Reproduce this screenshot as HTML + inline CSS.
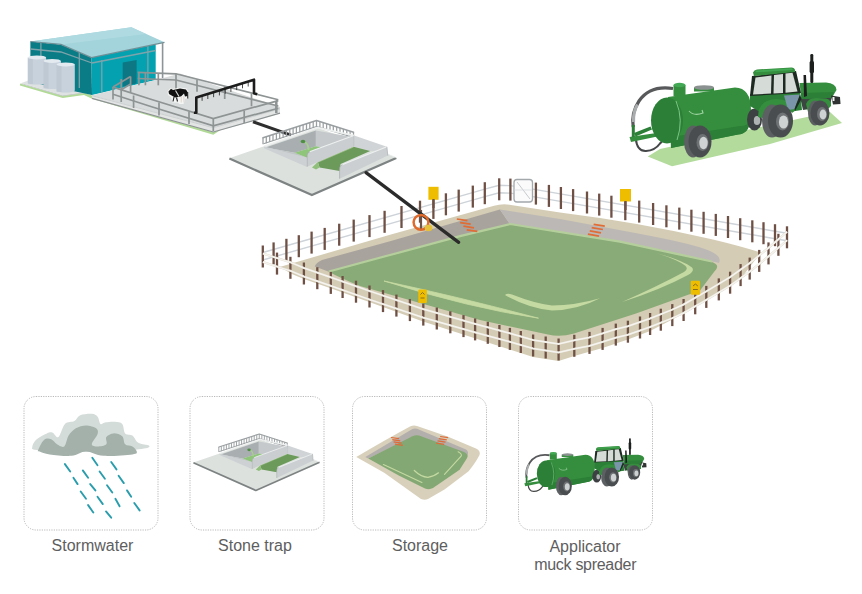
<!DOCTYPE html>
<html><head><meta charset="utf-8"><style>
html,body{margin:0;padding:0;background:#fff;width:862px;height:594px;overflow:hidden}
svg{display:block}
</style></head><body>
<svg width="862" height="594" viewBox="0 0 862 594">
<rect x="24" y="396.5" width="134" height="133.5" rx="12" fill="none" stroke="#b9b9b9" stroke-width="1" stroke-dasharray="1.2 1.2"/>
<rect x="190" y="396.5" width="134" height="133.5" rx="12" fill="none" stroke="#b9b9b9" stroke-width="1" stroke-dasharray="1.2 1.2"/>
<rect x="352.5" y="396.5" width="134" height="133.5" rx="12" fill="none" stroke="#b9b9b9" stroke-width="1" stroke-dasharray="1.2 1.2"/>
<rect x="518.5" y="396.5" width="134" height="133.5" rx="12" fill="none" stroke="#b9b9b9" stroke-width="1" stroke-dasharray="1.2 1.2"/>
<text x="92.5" y="550.6" letter-spacing="0" text-anchor="middle" font-family="Liberation Sans, sans-serif" font-size="16" fill="#5e5e5e">Stormwater</text>
<text x="255" y="550.6" letter-spacing="0" text-anchor="middle" font-family="Liberation Sans, sans-serif" font-size="16" fill="#5e5e5e">Stone trap</text>
<text x="420" y="550.6" letter-spacing="0" text-anchor="middle" font-family="Liberation Sans, sans-serif" font-size="16" fill="#5e5e5e">Storage</text>
<text x="585" y="551.5" letter-spacing="0" text-anchor="middle" font-family="Liberation Sans, sans-serif" font-size="16" fill="#5e5e5e">Applicator</text>
<text x="585.2" y="569.8" letter-spacing="-0.3" text-anchor="middle" font-family="Liberation Sans, sans-serif" font-size="16" fill="#5e5e5e">muck spreader</text>
<path d="M32.35,446.43 C32.35,444.62 34.28,441.35 36.70,439.18 C39.12,437.00 44.19,434.46 46.85,433.38 C49.51,432.29 50.72,432.05 52.65,432.65 C54.59,433.26 56.40,438.45 58.45,437.00 C60.51,435.55 62.32,426.61 64.98,423.95 C67.64,421.29 71.87,422.50 74.40,421.05 C76.94,419.60 77.30,416.46 80.20,415.25 C83.10,414.04 88.90,413.56 91.81,413.80 C94.71,414.04 96.16,415.01 97.61,416.70 C99.06,418.39 99.30,422.98 100.51,423.95 C101.71,424.92 102.44,422.86 104.86,422.50 C107.27,422.14 112.11,421.53 115.01,421.78 C117.91,422.02 120.57,422.02 122.26,423.95 C123.95,425.88 123.47,431.44 125.16,433.38 C126.85,435.31 130.23,433.98 132.41,435.55 C134.58,437.12 135.43,441.11 138.21,442.80 C140.99,444.49 148.12,444.74 149.08,445.70 C150.05,446.67 149.69,447.64 144.01,448.60 C138.33,449.57 127.09,451.02 115.01,451.50 C102.92,451.99 84.55,451.75 71.50,451.50 C58.45,451.26 43.23,450.90 36.70,450.05 C30.18,449.21 32.35,448.24 32.35,446.43 Z" fill="#d4dcd9"/>
<path d="M38.15,450.05 C38.88,448.12 41.78,441.72 43.95,439.90 C46.13,438.09 49.03,438.45 51.20,439.18 C53.38,439.90 54.83,443.04 57.00,444.25 C59.18,445.46 62.32,447.88 64.25,446.43 C66.19,444.98 66.67,438.57 68.60,435.55 C70.54,432.53 72.95,429.99 75.85,428.30 C78.75,426.61 82.62,425.40 86.00,425.40 C89.39,425.40 94.22,426.85 96.16,428.30 C98.09,429.75 98.33,431.44 97.61,434.10 C96.88,436.76 91.81,442.20 91.81,444.25 C91.81,446.31 95.19,446.43 97.61,446.43 C100.02,446.43 104.86,445.82 106.31,444.25 C107.76,442.68 105.10,438.81 106.31,437.00 C107.51,435.19 110.90,433.50 113.56,433.38 C116.22,433.26 120.32,434.46 122.26,436.28 C124.19,438.09 123.47,442.56 125.16,444.25 C126.85,445.94 130.47,445.22 132.41,446.43 C134.34,447.64 136.76,450.17 136.76,451.50 C136.76,452.83 137.97,453.68 132.41,454.40 C126.85,455.13 111.14,456.34 103.41,455.85 C95.67,455.37 91.32,451.50 86.00,451.50 C80.69,451.50 77.55,455.37 71.50,455.85 C65.46,456.34 55.07,455.13 49.75,454.40 C44.43,453.68 41.53,452.23 39.60,451.50 C37.67,450.78 37.43,451.99 38.15,450.05 Z" fill="#a4b1ab"/>
<line x1="64.9" y1="464.1" x2="70.2" y2="471.5" stroke="#2a9dad" stroke-width="1.9" stroke-linecap="round"/>
<line x1="73.4" y1="477.8" x2="77.6" y2="484.1" stroke="#2a9dad" stroke-width="1.9" stroke-linecap="round"/>
<line x1="80.7" y1="491.5" x2="86.0" y2="498.8" stroke="#2a9dad" stroke-width="1.9" stroke-linecap="round"/>
<line x1="88.1" y1="505.1" x2="93.3" y2="512.5" stroke="#2a9dad" stroke-width="1.9" stroke-linecap="round"/>
<line x1="82.8" y1="470.4" x2="88.1" y2="477.8" stroke="#2a9dad" stroke-width="1.9" stroke-linecap="round"/>
<line x1="90.2" y1="484.1" x2="95.4" y2="490.4" stroke="#2a9dad" stroke-width="1.9" stroke-linecap="round"/>
<line x1="97.5" y1="496.7" x2="102.8" y2="504.1" stroke="#2a9dad" stroke-width="1.9" stroke-linecap="round"/>
<line x1="106.0" y1="511.4" x2="111.2" y2="517.7" stroke="#2a9dad" stroke-width="1.9" stroke-linecap="round"/>
<line x1="92.3" y1="457.8" x2="97.5" y2="465.2" stroke="#2a9dad" stroke-width="1.9" stroke-linecap="round"/>
<line x1="99.6" y1="471.5" x2="104.9" y2="478.8" stroke="#2a9dad" stroke-width="1.9" stroke-linecap="round"/>
<line x1="107.0" y1="485.2" x2="112.3" y2="492.5" stroke="#2a9dad" stroke-width="1.9" stroke-linecap="round"/>
<line x1="115.4" y1="498.8" x2="119.6" y2="506.2" stroke="#2a9dad" stroke-width="1.9" stroke-linecap="round"/>
<line x1="111.2" y1="462.0" x2="116.5" y2="469.4" stroke="#2a9dad" stroke-width="1.9" stroke-linecap="round"/>
<line x1="118.6" y1="475.7" x2="123.8" y2="483.1" stroke="#2a9dad" stroke-width="1.9" stroke-linecap="round"/>
<line x1="127.0" y1="490.4" x2="131.2" y2="496.7" stroke="#2a9dad" stroke-width="1.9" stroke-linecap="round"/>
<line x1="134.3" y1="503.0" x2="139.6" y2="510.4" stroke="#2a9dad" stroke-width="1.9" stroke-linecap="round"/>
<polygon points="20.0,83.5 62.7,95.5 84.0,92.5 92.0,95.5 213.3,131.5 222.0,129.0 213.3,134.8 92.0,98.8 84.0,95.0 62.7,98.0 20.0,85.5" fill="#b2da97" />
<polygon points="21.5,83.0 31.0,79.5 92.0,90.0 92.0,95.3 84.0,92.3 62.7,95.3" fill="#dfe2e3" />
<polyline points="21.5,83.6 62.7,95.8 84.0,92.8" fill="none" stroke="#c5c9cb" stroke-width="0.9" />
<polygon points="30.4,41.5 60.9,44.4 91.5,57.5 92.0,95.0 30.4,82.0" fill="#0a7c86" />
<polygon points="91.5,57.5 155.7,44.2 155.7,80.0 92.0,95.0" fill="#04a2b0" />
<polyline points="30.4,49.0 60.9,52.0 92.0,63.0" fill="none" stroke="#7fa3aa" stroke-width="1.3" />
<line x1="40.9" y1="42.3" x2="40.9" y2="80.0" stroke="#7fa3aa" stroke-width="1.3" />
<line x1="79.3" y1="53.0" x2="79.3" y2="88.0" stroke="#7fa3aa" stroke-width="1.3" />
<polyline points="92.0,63.0 155.7,50.5" fill="none" stroke="#7fa3aa" stroke-width="1.3" />
<line x1="101.8" y1="60.0" x2="101.8" y2="93.0" stroke="#7fa3aa" stroke-width="1.3" />
<line x1="147.9" y1="46.0" x2="147.9" y2="81.5" stroke="#7fa3aa" stroke-width="1.3" />
<polygon points="122.7,62.6 136.6,60.0 136.6,83.5 122.7,86.5" fill="#0d7883" />
<polygon points="30.4,41.5 131.4,27.3 164.5,42.3 91.5,57.5 60.9,44.4" fill="#a3d3db" />
<polygon points="30.4,41.5 131.4,27.3 146.0,34.0 60.9,44.4" fill="#afdae1" />
<polyline points="30.4,41.5 60.9,44.4 91.5,57.5 164.5,42.3" fill="none" stroke="#6f8f96" stroke-width="1.2" />
<line x1="162.6" y1="42.5" x2="162.6" y2="78.0" stroke="#8c9496" stroke-width="1.6" />
<path d="M27.8,57.4 L27.8,82.6 A9.15,2 0 0 0 46.1,82.6 L46.1,57.4 Z" fill="#c8d2dc"/>
<rect x="27.8" y="57.4" width="5" height="26.699999999999996" fill="#b4c0cc" opacity="0.5"/>
<ellipse cx="36.95" cy="57.4" rx="9.15" ry="2" fill="#e3eaf0"/>
<path d="M43.5,60.9 L43.5,87 A8.7,2 0 0 0 60.9,87 L60.9,60.9 Z" fill="#c8d2dc"/>
<rect x="43.5" y="60.9" width="5" height="27.6" fill="#b4c0cc" opacity="0.5"/>
<ellipse cx="52.2" cy="60.9" rx="8.7" ry="2" fill="#e3eaf0"/>
<path d="M56.5,64.4 L56.5,90.5 A9.149999999999999,2 0 0 0 74.8,90.5 L74.8,64.4 Z" fill="#c8d2dc"/>
<rect x="56.5" y="64.4" width="5" height="27.599999999999994" fill="#b4c0cc" opacity="0.5"/>
<ellipse cx="65.65" cy="64.4" rx="9.149999999999999" ry="2" fill="#e3eaf0"/>
<polygon points="92.0,95.3 155.7,80.0 180.0,73.5 280.0,107.0 280.0,108.7 213.3,127.6 92.0,95.6" fill="#d9dcdc" />
<polygon points="92.0,95.6 213.3,127.6 280.0,108.7 280.0,113.4 213.3,132.2 92.0,98.6" fill="#e3e5e5" />
<polyline points="92.0,98.4 213.3,132.0 280.0,113.2" fill="none" stroke="#8d9292" stroke-width="1.2" />
<polyline points="92.0,95.7 213.3,127.7 280.0,108.8" fill="none" stroke="#c2c6c6" stroke-width="0.7" />
<polyline points="137.7,72.4 176.0,73.8 278.3,99.8" fill="none" stroke="#8e9394" stroke-width="1.7" />
<polyline points="137.7,78.5 176.0,80.0 278.3,106.0" fill="none" stroke="#8e9394" stroke-width="1.7" />
<line x1="138.9" y1="72.4" x2="138.9" y2="85.3" stroke="#8e9394" stroke-width="1.7" />
<line x1="145.4" y1="72.6" x2="145.4" y2="85.3" stroke="#8e9394" stroke-width="1.7" />
<line x1="158.3" y1="73.5" x2="158.3" y2="85.3" stroke="#8e9394" stroke-width="1.7" />
<line x1="176.0" y1="73.8" x2="176.0" y2="90.9" stroke="#8e9394" stroke-width="1.7" />
<line x1="197.0" y1="79.5" x2="197.0" y2="91.7" stroke="#8e9394" stroke-width="1.7" />
<line x1="224.7" y1="86.8" x2="224.7" y2="99.0" stroke="#8e9394" stroke-width="1.7" />
<line x1="251.5" y1="93.3" x2="251.5" y2="106.3" stroke="#8e9394" stroke-width="1.7" />
<line x1="276.7" y1="99.8" x2="276.7" y2="113.0" stroke="#8e9394" stroke-width="1.7" />
<polyline points="113.0,87.1 150.0,99.0 213.3,118.5 278.3,100.6" fill="none" stroke="#8e9394" stroke-width="1.7" />
<polyline points="113.0,94.2 150.0,106.3 213.3,125.8 278.3,108.2" fill="none" stroke="#8e9394" stroke-width="1.7" />
<polyline points="113.0,87.1 130.6,76.5" fill="none" stroke="#8e9394" stroke-width="1.7" />
<polyline points="121.2,89.8 130.6,84.0" fill="none" stroke="#8e9394" stroke-width="1.7" />
<line x1="113.0" y1="87.0" x2="113.0" y2="99.5" stroke="#8e9394" stroke-width="1.7" />
<line x1="121.2" y1="79.0" x2="121.2" y2="102.0" stroke="#8e9394" stroke-width="1.7" />
<line x1="130.6" y1="76.5" x2="130.6" y2="92.0" stroke="#8e9394" stroke-width="1.7" />
<line x1="133.6" y1="95.5" x2="133.6" y2="108.0" stroke="#8e9394" stroke-width="1.7" />
<line x1="159.0" y1="102.5" x2="159.0" y2="115.5" stroke="#8e9394" stroke-width="1.7" />
<line x1="189.0" y1="111.8" x2="189.0" y2="124.0" stroke="#8e9394" stroke-width="1.7" />
<line x1="213.3" y1="118.5" x2="213.3" y2="131.0" stroke="#8e9394" stroke-width="1.7" />
<line x1="244.2" y1="110.6" x2="244.2" y2="123.0" stroke="#8e9394" stroke-width="1.7" />
<line x1="275.9" y1="101.2" x2="275.9" y2="113.0" stroke="#8e9394" stroke-width="1.7" />
<polyline points="193.9,112.8 196.3,112.8 196.3,97.6 254.0,79.7 254.0,93.3 257.2,94.3" fill="none" stroke="#1d1d1d" stroke-width="2.6" stroke-linejoin="round"/>
<line x1="202.1" y1="95.8" x2="202.1" y2="100.8" stroke="#1d1d1d" stroke-width="0.8" />
<line x1="207.8" y1="94.0" x2="207.8" y2="99.0" stroke="#1d1d1d" stroke-width="0.8" />
<line x1="213.6" y1="92.2" x2="213.6" y2="97.2" stroke="#1d1d1d" stroke-width="0.8" />
<line x1="219.4" y1="90.4" x2="219.4" y2="95.4" stroke="#1d1d1d" stroke-width="0.8" />
<line x1="225.2" y1="88.7" x2="225.2" y2="93.7" stroke="#1d1d1d" stroke-width="0.8" />
<line x1="230.9" y1="86.9" x2="230.9" y2="91.9" stroke="#1d1d1d" stroke-width="0.8" />
<line x1="236.7" y1="85.1" x2="236.7" y2="90.1" stroke="#1d1d1d" stroke-width="0.8" />
<line x1="242.5" y1="83.3" x2="242.5" y2="88.3" stroke="#1d1d1d" stroke-width="0.8" />
<line x1="248.2" y1="81.5" x2="248.2" y2="86.5" stroke="#1d1d1d" stroke-width="0.8" />
<path d="M167.5,91.5 L170.5,87.8 L173,89 L180,87.6 L186.5,88.5 L188.8,92 L188.8,98 L185,99 L183.5,104 L179.5,104 L177.5,102.5 L172.5,102.5 L171,97 L168,95 Z" fill="#f4f5f5"/>
<path d="M168.5,91.5 L171,88.8 L173,90 L180,88.6 L186,89.5 L187.5,92 L187.5,96 L185,96.5 L184,93.5 L181,96.5 L175,97.5 L172,95.8 L169,94 Z" fill="#121212"/>
<line x1="175.5" y1="90.5" x2="179" y2="96.5" stroke="#dadddd" stroke-width="1.1"/>
<path d="M174,97 L173,101.5 M176.5,97.5 L177.5,101.5 M187.7,92 L187.8,98.5" stroke="#1a1a1a" stroke-width="1.1" fill="none"/>
<path d="M181.3,96.5 L181.3,102.5 M183.8,96 L184,102.5" stroke="#e6dcd6" stroke-width="1.3" fill="none"/>
<line x1="253.0" y1="121.8" x2="291.0" y2="135.2" stroke="#2e2e2e" stroke-width="3.0" />
<g id="trap">
<polygon points="229.4,158.2 264.0,146.3 317.7,127.7 387.2,153.5 396.1,157.4 311.9,194.6" fill="#dce1de" />
<polyline points="229.4,158.6 311.9,195.1 396.3,157.9" fill="none" stroke="#7d8282" stroke-width="2.2" stroke-linejoin="round"/>
<polyline points="387.2,153.8 396.1,157.6" fill="none" stroke="#eef0f0" stroke-width="0.8" />
<line x1="263.0" y1="137.8" x2="263.0" y2="144.3" stroke="#9a9fa1" stroke-width="1.25" />
<line x1="266.3" y1="136.7" x2="266.3" y2="143.2" stroke="#9a9fa1" stroke-width="1.25" />
<line x1="269.7" y1="135.6" x2="269.7" y2="142.1" stroke="#9a9fa1" stroke-width="1.25" />
<line x1="273.0" y1="134.6" x2="273.0" y2="141.1" stroke="#9a9fa1" stroke-width="1.25" />
<line x1="276.4" y1="133.5" x2="276.4" y2="140.0" stroke="#9a9fa1" stroke-width="1.25" />
<line x1="279.7" y1="132.4" x2="279.7" y2="138.9" stroke="#9a9fa1" stroke-width="1.25" />
<line x1="283.1" y1="131.3" x2="283.1" y2="137.8" stroke="#9a9fa1" stroke-width="1.25" />
<line x1="286.4" y1="130.2" x2="286.4" y2="136.7" stroke="#9a9fa1" stroke-width="1.25" />
<line x1="289.8" y1="129.2" x2="289.8" y2="135.7" stroke="#9a9fa1" stroke-width="1.25" />
<line x1="293.1" y1="128.1" x2="293.1" y2="134.6" stroke="#9a9fa1" stroke-width="1.25" />
<line x1="296.4" y1="127.0" x2="296.4" y2="133.5" stroke="#9a9fa1" stroke-width="1.25" />
<line x1="299.8" y1="125.9" x2="299.8" y2="132.4" stroke="#9a9fa1" stroke-width="1.25" />
<line x1="303.1" y1="124.8" x2="303.1" y2="131.3" stroke="#9a9fa1" stroke-width="1.25" />
<line x1="306.5" y1="123.7" x2="306.5" y2="130.2" stroke="#9a9fa1" stroke-width="1.25" />
<line x1="309.8" y1="122.7" x2="309.8" y2="129.2" stroke="#9a9fa1" stroke-width="1.25" />
<line x1="313.2" y1="121.6" x2="313.2" y2="128.1" stroke="#9a9fa1" stroke-width="1.25" />
<line x1="316.5" y1="120.5" x2="316.5" y2="127.0" stroke="#9a9fa1" stroke-width="1.25" />
<line x1="319.9" y1="121.6" x2="319.9" y2="128.0" stroke="#9a9fa1" stroke-width="1.25" />
<line x1="323.2" y1="122.6" x2="323.2" y2="129.0" stroke="#9a9fa1" stroke-width="1.25" />
<line x1="326.6" y1="123.7" x2="326.6" y2="130.0" stroke="#9a9fa1" stroke-width="1.25" />
<line x1="330.0" y1="124.8" x2="330.0" y2="131.0" stroke="#9a9fa1" stroke-width="1.25" />
<line x1="333.3" y1="125.9" x2="333.3" y2="132.0" stroke="#9a9fa1" stroke-width="1.25" />
<line x1="336.7" y1="126.9" x2="336.7" y2="133.0" stroke="#9a9fa1" stroke-width="1.25" />
<line x1="340.0" y1="128.0" x2="340.0" y2="134.0" stroke="#9a9fa1" stroke-width="1.25" />
<line x1="343.4" y1="129.1" x2="343.4" y2="135.0" stroke="#9a9fa1" stroke-width="1.25" />
<line x1="346.8" y1="130.2" x2="346.8" y2="136.0" stroke="#9a9fa1" stroke-width="1.25" />
<line x1="350.1" y1="131.2" x2="350.1" y2="137.0" stroke="#9a9fa1" stroke-width="1.25" />
<line x1="353.5" y1="132.3" x2="353.5" y2="138.0" stroke="#9a9fa1" stroke-width="1.25" />
<polyline points="263.0,137.8 316.5,120.5 353.5,132.3" fill="none" stroke="#9a9fa1" stroke-width="1.5" stroke-linejoin="round" stroke-linecap="round"/>
<polyline points="263.5,143.8 316.5,126.5 354.0,137.5" fill="none" stroke="#9a9fa1" stroke-width="1.2" stroke-linejoin="round"/>
<polyline points="264.0,146.3 317.7,127.7 354.2,135.6" fill="none" stroke="#eef0f0" stroke-width="1.6" />
<polygon points="265.5,147.6 315.9,130.4 315.9,146.3 294.6,152.8" fill="#a9aeb0" />
<polygon points="315.9,130.4 353.9,137.3 353.9,140.5 320.6,147.2 315.9,146.3" fill="#c6c9cc" />
<polygon points="265.5,147.6 294.6,152.8 306.7,157.4 306.5,158.0 266.0,148.2" fill="#c0c4c6" />
<polygon points="294.6,152.8 315.9,146.3 320.6,147.2 330.0,146.5 309.0,156.0 306.7,157.4" fill="#8fc47b" />
<path d="M303.5,141.5 Q308.5,143 308.5,150" stroke="#a5d08f" stroke-width="1.8" fill="none"/>
<ellipse cx="303" cy="141.5" rx="2.3" ry="1.8" fill="#4f8f45"/>
<polygon points="264.0,146.5 306.5,157.4 306.5,166.7 264.0,148.2" fill="#cdd1d3" />
<polygon points="354.2,135.6 386.9,146.8 386.9,150.5 370.2,150.9 353.5,146.8" fill="#d1d4d6" />
<polygon points="317.8,162.0 353.5,146.8 370.2,150.9 340.6,163.9 339.6,171.0 319.6,167.6" fill="#6b9a5b" />
<polyline points="317.8,162.3 353.5,147.0" fill="none" stroke="#a7c98f" stroke-width="0.8" />
<polygon points="312.0,167.5 317.8,162.0 319.6,167.6 316.0,169.5" fill="#8fbf7a" />
<path d="M307.1,155 Q307.3,152.6 310,151.6 L353.9,135.6 L353.9,146.3 L317.8,162 L307.1,166.7 Z" fill="#caced0"/>
<polyline points="309.5,151.8 353.9,135.6" fill="none" stroke="#eef0f0" stroke-width="1.1" />
<path d="M307.1,166.7 L307.1,155 Q307.3,152.6 310,151.6" stroke="#9ea3a5" stroke-width="0.6" fill="none"/>
<polyline points="353.9,135.6 353.9,146.3" fill="none" stroke="#b5babc" stroke-width="0.6" />
<path d="M339.6,168 Q339.8,165.6 342.5,164.6 L386.9,146.8 L387.8,155.6 L339.6,178.7 Z" fill="#cbcfd1"/>
<polyline points="341.5,164.9 386.9,146.8" fill="none" stroke="#eef0f0" stroke-width="1.1" />
<path d="M339.6,178.7 L339.6,168 Q339.8,165.6 342.5,164.6" stroke="#9ea3a5" stroke-width="0.6" fill="none"/>
<polyline points="386.9,146.8 387.8,155.6" fill="none" stroke="#a9aeb0" stroke-width="0.7" />
</g>
<polyline points="262.8,252.5 484.8,189.2 499.2,185.3 510.4,185.6 535.9,189.6 787.0,233.3" fill="none" stroke="#cdd3d8" stroke-width="1.4" />
<polyline points="262.8,260.0 484.8,196.7 499.2,192.8 510.4,193.1 535.9,197.1 787.0,240.8" fill="none" stroke="#cdd3d8" stroke-width="1.4" />
<line x1="262.8" y1="245.5" x2="262.8" y2="267.5" stroke="#6f5045" stroke-width="2.3" />
<line x1="273.6" y1="242.4" x2="273.6" y2="264.4" stroke="#6f5045" stroke-width="2.3" />
<line x1="286.4" y1="238.8" x2="286.4" y2="260.8" stroke="#6f5045" stroke-width="2.3" />
<line x1="298.8" y1="235.2" x2="298.8" y2="257.2" stroke="#6f5045" stroke-width="2.3" />
<line x1="311.6" y1="231.6" x2="311.6" y2="253.6" stroke="#6f5045" stroke-width="2.3" />
<line x1="324.7" y1="227.9" x2="324.7" y2="249.9" stroke="#6f5045" stroke-width="2.3" />
<line x1="339.2" y1="223.7" x2="339.2" y2="245.7" stroke="#6f5045" stroke-width="2.3" />
<line x1="353.7" y1="219.6" x2="353.7" y2="241.6" stroke="#6f5045" stroke-width="2.3" />
<line x1="369.5" y1="215.1" x2="369.5" y2="237.1" stroke="#6f5045" stroke-width="2.3" />
<line x1="384.6" y1="210.8" x2="384.6" y2="232.8" stroke="#6f5045" stroke-width="2.3" />
<line x1="401.5" y1="206.0" x2="401.5" y2="228.0" stroke="#6f5045" stroke-width="2.3" />
<line x1="420.0" y1="200.7" x2="420.0" y2="222.7" stroke="#6f5045" stroke-width="2.3" />
<line x1="433.4" y1="196.9" x2="433.4" y2="218.9" stroke="#6f5045" stroke-width="2.3" />
<line x1="445.9" y1="193.3" x2="445.9" y2="215.3" stroke="#6f5045" stroke-width="2.3" />
<line x1="458.7" y1="189.6" x2="458.7" y2="211.6" stroke="#6f5045" stroke-width="2.3" />
<line x1="472.8" y1="185.6" x2="472.8" y2="207.6" stroke="#6f5045" stroke-width="2.3" />
<line x1="484.8" y1="182.2" x2="484.8" y2="204.2" stroke="#6f5045" stroke-width="2.3" />
<line x1="499.2" y1="178.3" x2="499.2" y2="200.3" stroke="#6f5045" stroke-width="2.3" />
<line x1="510.4" y1="178.6" x2="510.4" y2="200.6" stroke="#6f5045" stroke-width="2.3" />
<line x1="535.9" y1="182.6" x2="535.9" y2="204.6" stroke="#6f5045" stroke-width="2.3" />
<line x1="548.9" y1="184.9" x2="548.9" y2="206.9" stroke="#6f5045" stroke-width="2.3" />
<line x1="560.9" y1="187.0" x2="560.9" y2="209.0" stroke="#6f5045" stroke-width="2.3" />
<line x1="573.1" y1="189.1" x2="573.1" y2="211.1" stroke="#6f5045" stroke-width="2.3" />
<line x1="587.0" y1="191.5" x2="587.0" y2="213.5" stroke="#6f5045" stroke-width="2.3" />
<line x1="599.2" y1="193.6" x2="599.2" y2="215.6" stroke="#6f5045" stroke-width="2.3" />
<line x1="611.4" y1="195.7" x2="611.4" y2="217.7" stroke="#6f5045" stroke-width="2.3" />
<line x1="625.3" y1="198.2" x2="625.3" y2="220.2" stroke="#6f5045" stroke-width="2.3" />
<line x1="639.2" y1="200.6" x2="639.2" y2="222.6" stroke="#6f5045" stroke-width="2.3" />
<line x1="653.1" y1="203.0" x2="653.1" y2="225.0" stroke="#6f5045" stroke-width="2.3" />
<line x1="666.4" y1="205.3" x2="666.4" y2="227.3" stroke="#6f5045" stroke-width="2.3" />
<line x1="679.3" y1="207.6" x2="679.3" y2="229.6" stroke="#6f5045" stroke-width="2.3" />
<line x1="691.4" y1="209.7" x2="691.4" y2="231.7" stroke="#6f5045" stroke-width="2.3" />
<line x1="703.6" y1="211.8" x2="703.6" y2="233.8" stroke="#6f5045" stroke-width="2.3" />
<line x1="715.8" y1="213.9" x2="715.8" y2="235.9" stroke="#6f5045" stroke-width="2.3" />
<line x1="728.0" y1="216.0" x2="728.0" y2="238.0" stroke="#6f5045" stroke-width="2.3" />
<line x1="740.2" y1="218.2" x2="740.2" y2="240.2" stroke="#6f5045" stroke-width="2.3" />
<line x1="752.3" y1="220.3" x2="752.3" y2="242.3" stroke="#6f5045" stroke-width="2.3" />
<line x1="763.5" y1="222.2" x2="763.5" y2="244.2" stroke="#6f5045" stroke-width="2.3" />
<line x1="775.0" y1="224.2" x2="775.0" y2="246.2" stroke="#6f5045" stroke-width="2.3" />
<line x1="787.0" y1="226.3" x2="787.0" y2="248.3" stroke="#6f5045" stroke-width="2.3" />
<rect x="514" y="179.5" width="18.5" height="22.5" rx="3" fill="#fbfbfb" stroke="#a3a8ab" stroke-width="1.3"/>
<line x1="517" y1="182" x2="530" y2="199" stroke="#c1c5c8" stroke-width="0.9"/>
<line x1="514.5" y1="190" x2="532" y2="190" stroke="#d9dcde" stroke-width="0.8"/>
<rect x="428.4" y="186.8" width="10.2" height="13" fill="#efbd00"/>
<line x1="433.5" y1="199" x2="433.5" y2="208" stroke="#6f5045" stroke-width="2.2"/>
<rect x="620" y="189" width="11" height="12.5" fill="#efbd00"/>
<line x1="625.5" y1="201" x2="625.5" y2="210" stroke="#6f5045" stroke-width="2.2"/>
<path d="M280.5,266.8 L390,234.7 L494,205.8 Q502.7,203.2 511,205 L560,212.5 Q640,222.5 713,239.5 Q740,246 760.8,252.5 L740.6,279 L718.8,292 L695.2,307 L672.3,319.5 L650.1,331 L627.9,339.5 L602.6,348 L574.3,356 L558.6,361 L533,357 L509.7,349.5 L475.5,338.5 L423,321.5 L369.2,302 L330.6,288.3 L303.9,279 L290.6,273.5 Z" fill="#d4ccb4"/>
<path d="M314.7,266.5 Q316,262.8 322,260 L390,241.2 L499.9,209.5 L510.1,224.3 L460,236.4 L390,255.3 L328.9,271.8 Z" fill="#a9a39e"/>
<path d="M499.9,209.5 L560,219 L636.6,233.2 Q700,245 712,252 Q722,257 719,263 L715,262 L620,242 L510.1,224.3 Z" fill="#bcb8b5"/>
<path d="M328.9,271.8 L390,255.3 L460,236.4 L510.1,224.3 L620,242 L710,261.5 Q722,264.5 714,272 L700,290.4 L636,313.4 L574,333.5 Q560,337.5 548,334.5 L480,320 L360,286 Q340,278 328.9,271.8 Z" fill="#89ab77"/>
<path d="M328.9,271.5 L390,255 L460,236.1 L510.1,224 L620,241.7 L712,261.5" fill="none" stroke="#b5cf9c" stroke-width="2.2"/>
<path d="M656,253 Q684,261 692,267.5 Q695,271 688,275 Q660,290 622,302 Q658,286 684,272 Q689,269 685,265.5 Q676,259 656,253 Z" fill="#c5d9a2"/>
<path d="M505,295 Q507,293 512,294.5 Q535,303.5 552,305.5 Q575,305.5 600,298.3 Q578,310 552,310.5 Q528,308 505,295 Z" fill="#c5d9a2"/>
<path d="M384,281 Q455,296 538.5,318.2 Q470,308 384,281 Z" fill="#c5d9a2" stroke="#c5d9a2" stroke-width="0.8" stroke-linejoin="round"/>
<line x1="456.8" y1="219.0" x2="467.4" y2="220.6" stroke="#e06c36" stroke-width="1.7" />
<line x1="460.1" y1="222.6" x2="470.7" y2="224.2" stroke="#e06c36" stroke-width="1.7" />
<line x1="463.4" y1="226.2" x2="474.0" y2="227.8" stroke="#e06c36" stroke-width="1.7" />
<line x1="466.7" y1="229.8" x2="477.3" y2="231.4" stroke="#e06c36" stroke-width="1.7" />
<line x1="593.6" y1="224.3" x2="604.8" y2="226.2" stroke="#e06c36" stroke-width="1.7" />
<line x1="591.7" y1="227.6" x2="602.9" y2="229.5" stroke="#e06c36" stroke-width="1.7" />
<line x1="589.8" y1="230.9" x2="601.0" y2="232.8" stroke="#e06c36" stroke-width="1.7" />
<line x1="587.9" y1="234.2" x2="599.1" y2="236.1" stroke="#e06c36" stroke-width="1.7" />
<line x1="421" y1="210" x2="421" y2="230" stroke="#6f5045" stroke-width="2.2"/>
<line x1="366.0" y1="172.6" x2="458.7" y2="242.4" stroke="#2b2b2b" stroke-width="3.2" stroke-linecap="round"/>
<circle cx="421" cy="222.3" r="7.4" fill="none" stroke="#df6a2c" stroke-width="2.5"/>
<ellipse cx="428.5" cy="228" rx="3.8" ry="3.2" fill="#e5c13b"/>
<line x1="277.0" y1="252.6" x2="277.0" y2="274.6" stroke="#6f5045" stroke-width="2.3" />
<line x1="290.4" y1="256.8" x2="290.4" y2="278.8" stroke="#6f5045" stroke-width="2.3" />
<line x1="303.9" y1="262.5" x2="303.9" y2="284.5" stroke="#6f5045" stroke-width="2.3" />
<line x1="317.3" y1="267.2" x2="317.3" y2="289.2" stroke="#6f5045" stroke-width="2.3" />
<line x1="330.8" y1="271.9" x2="330.8" y2="293.9" stroke="#6f5045" stroke-width="2.3" />
<line x1="342.6" y1="276.0" x2="342.6" y2="298.0" stroke="#6f5045" stroke-width="2.3" />
<line x1="356.0" y1="280.7" x2="356.0" y2="302.7" stroke="#6f5045" stroke-width="2.3" />
<line x1="369.5" y1="285.5" x2="369.5" y2="307.5" stroke="#6f5045" stroke-width="2.3" />
<line x1="383.0" y1="290.1" x2="383.0" y2="312.1" stroke="#6f5045" stroke-width="2.3" />
<line x1="396.4" y1="294.6" x2="396.4" y2="316.6" stroke="#6f5045" stroke-width="2.3" />
<line x1="409.9" y1="299.1" x2="409.9" y2="321.1" stroke="#6f5045" stroke-width="2.3" />
<line x1="423.3" y1="303.6" x2="423.3" y2="325.6" stroke="#6f5045" stroke-width="2.3" />
<line x1="436.8" y1="307.5" x2="436.8" y2="329.5" stroke="#6f5045" stroke-width="2.3" />
<line x1="450.3" y1="311.3" x2="450.3" y2="333.3" stroke="#6f5045" stroke-width="2.3" />
<line x1="463.5" y1="315.1" x2="463.5" y2="337.1" stroke="#6f5045" stroke-width="2.3" />
<line x1="475.1" y1="318.4" x2="475.1" y2="340.4" stroke="#6f5045" stroke-width="2.3" />
<line x1="487.8" y1="321.8" x2="487.8" y2="343.8" stroke="#6f5045" stroke-width="2.3" />
<line x1="499.4" y1="325.0" x2="499.4" y2="347.0" stroke="#6f5045" stroke-width="2.3" />
<line x1="509.9" y1="327.9" x2="509.9" y2="349.9" stroke="#6f5045" stroke-width="2.3" />
<line x1="520.8" y1="331.0" x2="520.8" y2="353.0" stroke="#6f5045" stroke-width="2.3" />
<line x1="533.1" y1="334.5" x2="533.1" y2="356.5" stroke="#6f5045" stroke-width="2.3" />
<line x1="545.7" y1="336.5" x2="545.7" y2="358.5" stroke="#6f5045" stroke-width="2.3" />
<line x1="558.6" y1="338.5" x2="558.6" y2="360.5" stroke="#6f5045" stroke-width="2.3" />
<line x1="574.3" y1="334.8" x2="574.3" y2="356.8" stroke="#6f5045" stroke-width="2.3" />
<line x1="589.5" y1="331.9" x2="589.5" y2="353.9" stroke="#6f5045" stroke-width="2.3" />
<line x1="602.6" y1="327.9" x2="602.6" y2="349.9" stroke="#6f5045" stroke-width="2.3" />
<line x1="615.8" y1="323.6" x2="615.8" y2="345.6" stroke="#6f5045" stroke-width="2.3" />
<line x1="627.9" y1="320.7" x2="627.9" y2="342.7" stroke="#6f5045" stroke-width="2.3" />
<line x1="640.0" y1="316.5" x2="640.0" y2="338.5" stroke="#6f5045" stroke-width="2.3" />
<line x1="650.1" y1="313.0" x2="650.1" y2="335.0" stroke="#6f5045" stroke-width="2.3" />
<line x1="660.8" y1="308.7" x2="660.8" y2="330.7" stroke="#6f5045" stroke-width="2.3" />
<line x1="672.3" y1="304.1" x2="672.3" y2="326.1" stroke="#6f5045" stroke-width="2.3" />
<line x1="683.6" y1="299.0" x2="683.6" y2="321.0" stroke="#6f5045" stroke-width="2.3" />
<line x1="695.2" y1="292.3" x2="695.2" y2="314.3" stroke="#6f5045" stroke-width="2.3" />
<line x1="706.3" y1="285.9" x2="706.3" y2="307.9" stroke="#6f5045" stroke-width="2.3" />
<line x1="718.8" y1="278.4" x2="718.8" y2="300.4" stroke="#6f5045" stroke-width="2.3" />
<line x1="730.1" y1="271.7" x2="730.1" y2="293.7" stroke="#6f5045" stroke-width="2.3" />
<line x1="740.6" y1="264.1" x2="740.6" y2="286.1" stroke="#6f5045" stroke-width="2.3" />
<line x1="749.7" y1="257.6" x2="749.7" y2="279.6" stroke="#6f5045" stroke-width="2.3" />
<line x1="759.2" y1="249.9" x2="759.2" y2="271.9" stroke="#6f5045" stroke-width="2.3" />
<line x1="768.5" y1="242.4" x2="768.5" y2="264.4" stroke="#6f5045" stroke-width="2.3" />
<line x1="778.4" y1="233.8" x2="778.4" y2="255.8" stroke="#6f5045" stroke-width="2.3" />
<polyline points="262.9,253.5 277.0,258.1 291.2,262.6 303.9,268.0 330.6,277.3 369.2,290.9 422.9,309.0 475.5,324.0 509.7,333.3 533.0,340.0 558.6,344.0 574.5,340.3 589.1,337.5 603.0,333.3 615.5,329.2 627.9,326.2 650.1,318.5 672.3,309.6 683.6,304.5 706.3,291.4 730.1,277.2 749.7,263.1 768.5,247.9 787.1,231.8" fill="none" stroke="#ddd7cb" stroke-width="2.1" />
<polyline points="262.9,253.5 277.0,258.1 291.2,262.6 303.9,268.0 330.6,277.3 369.2,290.9 422.9,309.0 475.5,324.0 509.7,333.3 533.0,340.0 558.6,344.0 574.5,340.3 589.1,337.5 603.0,333.3 615.5,329.2 627.9,326.2 650.1,318.5 672.3,309.6 683.6,304.5 706.3,291.4 730.1,277.2 749.7,263.1 768.5,247.9 787.1,231.8" fill="none" stroke="#f6f4ef" stroke-width="1.5" />
<polyline points="262.9,262.0 277.0,266.6 291.2,271.1 303.9,276.5 330.6,285.8 369.2,299.4 422.9,317.5 475.5,332.5 509.7,341.8 533.0,348.5 558.6,352.5 574.5,348.8 589.1,346.0 603.0,341.8 615.5,337.7 627.9,334.7 650.1,327.0 672.3,318.1 683.6,313.0 706.3,299.9 730.1,285.7 749.7,271.6 768.5,256.4 787.1,240.3" fill="none" stroke="#ddd7cb" stroke-width="2.1" />
<polyline points="262.9,262.0 277.0,266.6 291.2,271.1 303.9,276.5 330.6,285.8 369.2,299.4 422.9,317.5 475.5,332.5 509.7,341.8 533.0,348.5 558.6,352.5 574.5,348.8 589.1,346.0 603.0,341.8 615.5,337.7 627.9,334.7 650.1,327.0 672.3,318.1 683.6,313.0 706.3,299.9 730.1,285.7 749.7,271.6 768.5,256.4 787.1,240.3" fill="none" stroke="#f6f4ef" stroke-width="1.5" />
<rect x="418.3" y="289.5" width="8.6" height="13.5" rx="1.2" fill="#efbd00"/><path d="M420.5,294.5 L422.5,292.5 L424.5,294.5 M420.5,298 L424.5,298" stroke="#7a6420" stroke-width="0.9" fill="none"/>
<rect x="690.7" y="280.7" width="9.4" height="14" rx="1.2" fill="#efbd00"/><path d="M693,286 L695.4,284 L697.8,286 M693,289.5 L697.8,289.5" stroke="#7a6420" stroke-width="0.9" fill="none"/>
<polygon points="647.7,156.5 672,166.3 770,144 842,123 830,112 660,149" fill="#b3db9c"/>
<g id="tankg">
<path d="M673,88.5 Q650,85 639,101 Q631,113 633.2,127" fill="none" stroke="#58595b" stroke-width="3.2"/>
<path d="M637.5,104.5 Q633,112 633.5,122" fill="none" stroke="#a9acad" stroke-width="3.2"/>
<path d="M635.8,138.5 Q637,151.5 646,151 Q655,150.5 660,143.5 Q664,138.5 670,139" fill="none" stroke="#454749" stroke-width="2.1"/>
<polygon points="629.5,137 666.5,131.5 667,134.5 631,142" fill="#358e3e"/>
<polygon points="634,133 650.5,126.5 652,129.5 635.5,136.5" fill="#2b7f36"/>
<rect x="631.8" y="125" width="3" height="12" fill="#2b7f36"/>
<path d="M668,97 L735,87.5 Q751,88 751,110 Q751,134 738,134.5 L671,148 Z" fill="#358e3e"/>
<path d="M671,137 L740,126 Q748,126 750,121 Q749,134 738,134.5 L671,148 Z" fill="#2b7f36"/>
<ellipse cx="667" cy="120.5" rx="16" ry="23" fill="#2b7f36"/>
<path d="M676,101 Q684,120 677,140" fill="none" stroke="#7cc585" stroke-width="1"/>
<rect x="673.5" y="85" width="12" height="11" fill="#358e3e"/>
<ellipse cx="679.5" cy="85" rx="6" ry="2.2" fill="#43a853"/>
<rect x="694" y="87.5" width="20" height="4" fill="#358e3e"/>
<ellipse cx="704" cy="87.5" rx="10" ry="2.3" fill="#8b9190"/>
<path d="M689,111 Q694,116.5 703,113 L702,110" fill="none" stroke="#9fd4a2" stroke-width="1.1"/>
<ellipse cx="693" cy="141.5" rx="9" ry="16" fill="#5d6062"/>
<ellipse cx="700" cy="141.5" rx="11.5" ry="16" fill="#4a4d4f"/>
<ellipse cx="702.5" cy="142.5" rx="6" ry="8.5" fill="#6e7173"/>
<ellipse cx="703.5" cy="143" rx="4.2" ry="6.2" fill="#cfd2d2"/>
</g><g id="tractg">
<ellipse cx="754.5" cy="119.5" rx="7.5" ry="11" fill="#3d4042"/>
<ellipse cx="757" cy="120.5" rx="3.2" ry="4.6" fill="#aeb2b2"/>
<polygon points="800,97 832,96 830,106 803,110" fill="#3c4641"/>
<path d="M799.5,83 L826,82.5 Q836,83 836.5,90 L832,97.5 L801.5,99 Z" fill="#358e3e"/>
<path d="M801,93 L834,92 L832,97.5 L801.5,99 Z" fill="#2b7f36"/>
<path d="M831,95.5 L840,97 L840.5,104 L833,104.5 Z" fill="#2f3332"/>
<rect x="832.5" y="97" width="2" height="4" fill="#f0f0f0"/>
<polygon points="750,94 800,91 802,110 788,112 760,112 750,106" fill="#2b7f36"/>
<polygon points="752,76 796,71 801,93 750,96" fill="#1d2a22"/>
<polygon points="755.5,77.5 771.5,75.5 771,93.5 753,94.5" fill="#d5dbd6"/>
<polygon points="774,75 783,74 783,93 773.5,93.5" fill="#d5dbd6"/>
<polygon points="785.5,73.5 792.5,72.8 797.5,91.5 785.5,92.8" fill="#d5dbd6"/>
<path d="M753,72.5 Q754,70 757,69.5 L791.5,67.5 Q794.5,67.5 795,70 L795,72 L754,76 Z" fill="#358e3e"/>
<path d="M755,70.5 L792,68.3 L793,70 L756,72.3 Z" fill="#43a853"/>
<rect x="810.3" y="54" width="3" height="29" rx="1.3" fill="#1c1f1e"/>
<rect x="809.6" y="61" width="4.4" height="12" rx="1.5" fill="#1c1f1e"/>
<path d="M803.5,75 L806,75 L807,96 L804,97 Z" fill="#1c1f1e"/>
<path d="M758,117 Q758,100 776,99 Q790,99 796,110 L792,113 Q787,105 776,105 Q764,106 763,118 Z" fill="#358e3e"/>
<polygon points="784,95.5 800,94.4 794.5,109 788,110" fill="#7a95aa"/>
<path d="M800,94.4 L801.5,99 L795,111 L794.5,109 Z" fill="#1f2a24"/>
<ellipse cx="772" cy="121" rx="10" ry="16.5" fill="#5d6062"/>
<ellipse cx="780.5" cy="121" rx="12.5" ry="16.5" fill="#4a4d4f"/>
<ellipse cx="782.5" cy="121.5" rx="6.5" ry="9" fill="#707375"/>
<ellipse cx="783.5" cy="122" rx="4.6" ry="6.6" fill="#cfd2d2"/>
<path d="M806,104 Q808,98 816,98 L826,98.5 Q832,100 831,106 L829,108 L808,112 Z" fill="#358e3e"/>
<ellipse cx="815" cy="113" rx="7" ry="12.5" fill="#5d6062"/>
<ellipse cx="820" cy="113" rx="9.5" ry="12.5" fill="#4a4d4f"/>
<ellipse cx="822" cy="114" rx="5" ry="7" fill="#707375"/>
<ellipse cx="823" cy="114.5" rx="3.4" ry="5" fill="#cfd2d2"/>
</g>
<use href="#trap" transform="translate(20.0,342.9) scale(0.756)"/>
<use href="#tankg" transform="translate(159.9,404) scale(0.579)"/>
<use href="#tractg" transform="translate(159.9,407) scale(0.579)"/>
<path d="M356.3,457 Q385,440 410,426.5 Q413.6,424.8 417,426 L447.5,436.6 L476,448.5 Q481,451 479.5,455 Q476,462 468.6,471.3 L444.5,489.4 L428,499 Q424.9,500.5 421,499 L384.2,472.8 Z" fill="#d8d0bb"/>
<path d="M365.3,457 L412,429.2 Q414.3,428 417,428.8 L466,449.5 Q469.5,452 467.1,456.2 L458,455 L416,436 L368.3,458.5 Z" fill="#b3afac"/>
<path d="M368.3,458.5 L412.5,436.2 Q415.8,434.6 419,435.5 L464,452 Q469,454.5 467.1,458 L459.6,469.8 L433,488 Q429.4,490 425,488.5 L399.2,475.8 Z" fill="#84a873"/>
<path d="M383.4,464.5 Q404,474 421.9,482.6" stroke="#c5d9a2" stroke-width="1.1" fill="none" stroke-linecap="round"/>
<path d="M414.3,470.5 Q421,477 427.9,477.3 Q434,476.5 438.5,472.8" stroke="#c5d9a2" stroke-width="1.2" fill="none" stroke-linecap="round"/>
<path d="M458.1,451.7 Q462.5,454 461.1,456.2 L444.5,474.3" stroke="#c5d9a2" stroke-width="1.1" fill="none" stroke-linecap="round"/>
<line x1="391.0" y1="437.5" x2="399.0" y2="438.7" stroke="#df6b37" stroke-width="1.2"/>
<line x1="392.3" y1="439.7" x2="400.3" y2="440.9" stroke="#df6b37" stroke-width="1.2"/>
<line x1="393.6" y1="441.9" x2="401.6" y2="443.1" stroke="#df6b37" stroke-width="1.2"/>
<line x1="394.9" y1="444.1" x2="402.9" y2="445.3" stroke="#df6b37" stroke-width="1.2"/>
<line x1="440.1" y1="436.5" x2="448.1" y2="437.7" stroke="#df6b37" stroke-width="1.2"/>
<line x1="438.8" y1="438.7" x2="446.8" y2="439.9" stroke="#df6b37" stroke-width="1.2"/>
<line x1="437.5" y1="440.9" x2="445.5" y2="442.1" stroke="#df6b37" stroke-width="1.2"/>
<line x1="436.2" y1="443.1" x2="444.2" y2="444.3" stroke="#df6b37" stroke-width="1.2"/>
</svg></body></html>
